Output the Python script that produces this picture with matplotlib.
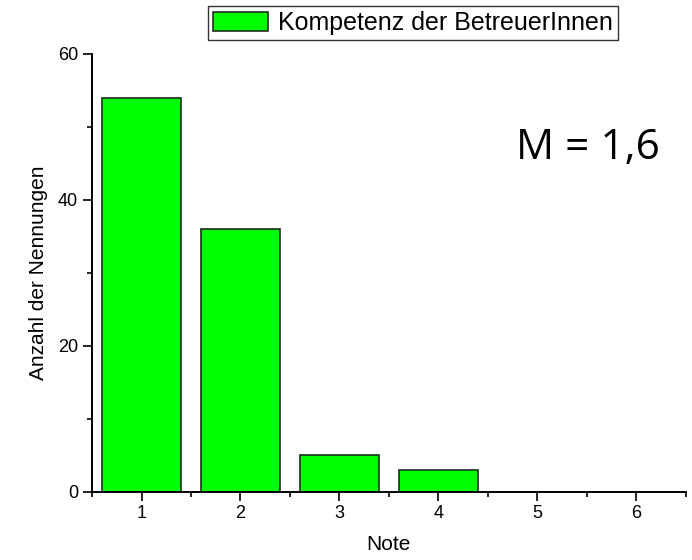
import matplotlib.pyplot as plt
from matplotlib.ticker import MultipleLocator

notes = [1, 2, 3, 4, 5, 6]
counts = [54, 36, 5, 3, 0, 0]
series_label = "Kompetenz der BetreuerInnen"
mean_text = "M = 1,6"

plt.rcParams['font.family'] = ['Liberation Sans', 'DejaVu Sans']

fig = plt.figure(figsize=(6.92, 5.6), dpi=100)
ax = fig.add_axes([0.133, 0.1223, 0.858, 0.7813])

ax.bar(notes, counts, width=0.8, color="#00ff00", edgecolor="#1c2e1c",
       linewidth=1.2, label=series_label)

ax.set_xlim(0.5, 6.5)
ax.set_ylim(0, 60)
ax.set_xticks(notes)
ax.set_yticks([0, 20, 40, 60])
ax.xaxis.set_minor_locator(MultipleLocator(0.5))
ax.yaxis.set_minor_locator(MultipleLocator(10))
ax.tick_params(which="major", direction="out", length=6.5, width=1.2,
               labelsize=13, pad=3.5)
ax.tick_params(which="minor", direction="out", length=3.5, width=1.2)
for s in ["top", "right"]:
    ax.spines[s].set_visible(False)
for s in ["left", "bottom"]:
    ax.spines[s].set_linewidth(1.4)
    ax.spines[s].set_clip_on(False)

ax.set_xlabel("Note", fontsize=15, labelpad=9)
ax.set_ylabel("Anzahl der Nennungen", fontsize=15, labelpad=7)

leg = ax.legend(loc="center", bbox_to_anchor=(0.541, 1.07), fontsize=18,
                frameon=True, fancybox=False, edgecolor="black",
                handlelength=2.2, handleheight=0.8, borderpad=0.2,
                handletextpad=0.4, borderaxespad=0)
leg.get_frame().set_linewidth(1.0)

ax.text(0.956, 0.785, mean_text, transform=ax.transAxes, ha="right", va="center",
        fontsize=30.5, family=["Open Sans", "DejaVu Sans"])

fig.savefig("out.png", dpi=100)
